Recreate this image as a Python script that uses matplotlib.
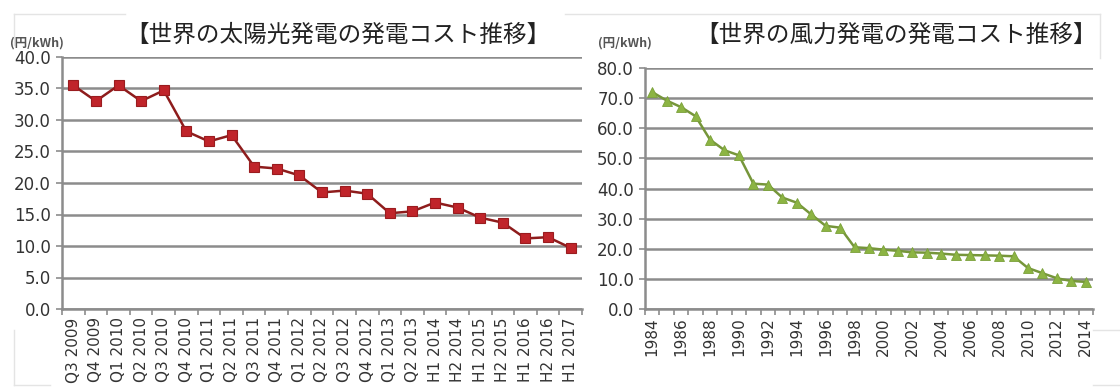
import numpy as np
import matplotlib
matplotlib.use("Agg")
import matplotlib.pyplot as plt
from matplotlib.lines import Line2D

plt.rcParams['font.family'] = ['DejaVu Sans', 'Noto Sans CJK JP']

# Solar generation cost by period (円/kWh)
solar_periods = ["Q3 2009", "Q4 2009", "Q1 2010", "Q2 2010", "Q3 2010", "Q4 2010",
                 "Q1 2011", "Q2 2011", "Q3 2011", "Q4 2011", "Q1 2012", "Q2 2012",
                 "Q3 2012", "Q4 2012", "Q1 2013", "Q2 2013", "H1 2014", "H2 2014",
                 "H1 2015", "H2 2015", "H1 2016", "H2 2016", "H1 2017"]
solar_cost = [35.5, 33.0, 35.5, 33.0, 34.7, 28.2, 26.6, 27.6, 22.6, 22.3, 21.2, 18.5,
              18.8, 18.3, 15.2, 15.5, 16.9, 16.1, 14.5, 13.7, 11.2, 11.4, 9.7]

# Wind generation cost by year (円/kWh)
wind_years = [str(y) for y in range(1984, 2015)]
wind_cost = [72.0, 69.2, 67.0, 64.0, 56.2, 52.7, 51.0, 41.6, 41.3, 37.0, 35.3, 31.4,
             27.6, 27.0, 20.5, 20.2, 19.7, 19.3, 18.8, 18.7, 18.4, 18.0, 17.9, 17.8,
             17.7, 17.5, 13.6, 11.9, 10.2, 9.3, 9.0]

grid_col = "#8c8c8c"
text_col = "#333333"
cjk = ['Noto Sans CJK JP', 'DejaVu Sans']

fig = plt.figure(figsize=(11.2, 3.89), dpi=100)
ax1 = fig.add_axes([62/1120, 1-309/389, 520/1120, 252/389])
ax2 = fig.add_axes([645/1120, 1-309/389, 448/1120, 241/389])


def style_axis(ax, labels, ymax, step, label_every=1):
    n = len(labels)
    ax.set_xlim(-0.5, n - 0.5)
    ax.set_ylim(0, ymax)
    yt = np.arange(0, ymax + step/2, step)
    ax.set_yticks(yt)
    ax.set_yticklabels([f"{v:.1f}" for v in yt], fontsize=12, color=text_col)
    ax.yaxis.grid(True, color=grid_col, linewidth=1.8)
    ax.set_axisbelow(True)
    idx = list(range(0, n, label_every))
    ax.set_xticks(idx)
    ax.set_xticklabels([labels[i] for i in idx], rotation=90, fontsize=11, color=text_col)
    ax.set_xticks(np.arange(-0.5, n), minor=True)
    ax.tick_params(axis='x', which='major', length=0, pad=6)
    ax.tick_params(axis='x', which='minor', length=4, width=1.2, color=grid_col)
    ax.tick_params(axis='y', length=4, width=1.2, color=grid_col, pad=4)
    for s in ['top', 'right']:
        ax.spines[s].set_visible(False)
    for s in ['left', 'bottom']:
        ax.spines[s].set_color(grid_col)
        ax.spines[s].set_linewidth(1.8)


style_axis(ax1, solar_periods, 40, 5)
ax1.plot(range(len(solar_cost)), solar_cost, color="#8e1c1c", linewidth=1.8,
         marker='s', markersize=7.5, markerfacecolor="#c0242a", markeredgecolor="#9a1c1f",
         markeredgewidth=0.8, zorder=3)

style_axis(ax2, wind_years, 80, 10, label_every=2)
ax2.plot(range(len(wind_cost)), wind_cost, color="#76963a", linewidth=1.8,
         marker='^', markersize=7, markerfacecolor="#8cb443", markeredgecolor="#7aa03a",
         markeredgewidth=0.6, zorder=3)

# titles and unit labels
fig.text(338/1120, 1-35/389, "【世界の太陽光発電の発電コスト推移】", ha='center', va='center',
         fontsize=17, family=cjk, color="#222222")
fig.text(896/1120, 1-35/389, "【世界の風力発電の発電コスト推移】", ha='center', va='center',
         fontsize=17, family=cjk, color="#222222")
fig.text(10/1120, 1-43/389, "(円/kWh)", ha='left', va='center', fontsize=9,
         family=cjk, color="#555555", fontweight='bold')
fig.text(598/1120, 1-43/389, "(円/kWh)", ha='left', va='center', fontsize=9,
         family=cjk, color="#555555", fontweight='bold')

# faint frame edges around the panels
faint = "#e4e4e4"
for xs, ys in [([14, 125], [14, 14]), ([14, 14], [14, 45]),
               ([565, 1100], [14, 14]), ([1100, 1100], [14, 58]),
               ([14, 14], [330, 385]), ([14, 50], [385, 385]),
               ([1093, 1120], [330, 330]), ([1093, 1120], [385, 385])]:
    fig.add_artist(Line2D([x/1120 for x in xs], [1 - y/389 for y in ys],
                          color=faint, linewidth=1))

fig.savefig("out.png", dpi=100)
